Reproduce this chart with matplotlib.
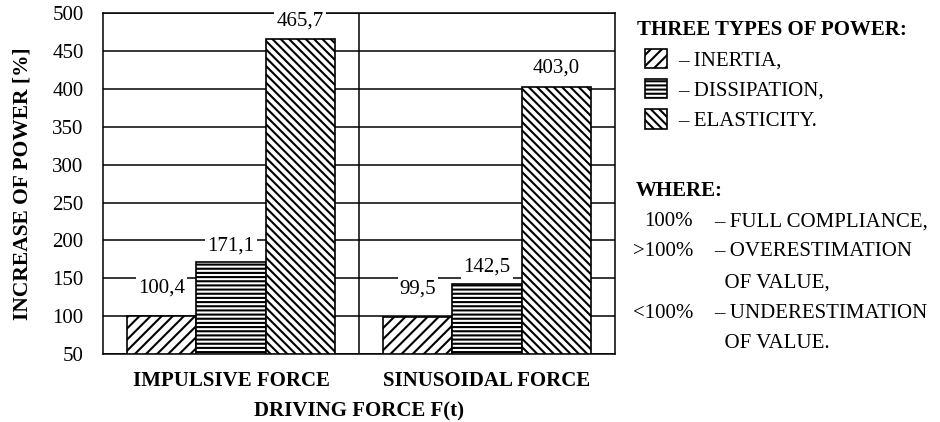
import matplotlib
matplotlib.use("Agg")
import matplotlib.pyplot as plt
import numpy as np

plt.rcParams['font.family'] = ['Liberation Serif', 'DejaVu Serif']
plt.rcParams['hatch.linewidth'] = 1.5

groups = ['IMPULSIVE FORCE', 'SINUSOIDAL FORCE']
series = ['INERTIA', 'DISSIPATION', 'ELASTICITY']
inertia = [100.4, 99.5]
dissipation = [171.1, 142.5]
elasticity = [465.7, 403.0]
labels_txt = [['100,4', '99,5'], ['171,1', '142,5'], ['465,7', '403,0']]
yticks = [50, 100, 150, 200, 250, 300, 350, 400, 450, 500]

fs = 15
fig = plt.figure(figsize=(9.4, 4.22), dpi=100)
ax = fig.add_axes([0.1096, 0.161, 0.5447, 0.808])

x = np.array([0.5, 1.5])
w = 0.27
hatches = ['///', '----', '\\\\\\\\']
offs = [20, 12, 13]
bars = []
for i, vals in enumerate([inertia, dissipation, elasticity]):
    b = ax.bar(x + (i - 1) * w, np.array(vals) - 50, w, bottom=50,
               color='white', edgecolor='black', hatch=hatches[i],
               linewidth=1.2, zorder=3)
    bars.append(b)
    for xi, v, t in zip(x + (i - 1) * w, vals, labels_txt[i]):
        ax.annotate(t, (xi, v), xytext=(0, offs[i]), textcoords='offset points',
                    ha='center', va='center', fontsize=fs, zorder=5,
                    annotation_clip=False,
                    bbox=dict(facecolor='white', edgecolor='none', pad=1.5))

ax.set_xlim(0, 2)
ax.set_ylim(50, 500)
ax.set_yticks(yticks)
ax.set_xticks(x)
ax.set_xticklabels(groups, fontweight='bold', fontsize=fs)
ax.tick_params(length=0, labelsize=fs, pad=14)
ax.tick_params(axis='x', pad=12)
ax.yaxis.grid(True, color='black', linewidth=1.1, zorder=0)
ax.axvline(1, color='black', linewidth=1.1, zorder=1)
for s in ax.spines.values():
    s.set_linewidth(1.1)
ax.set_axisbelow(True)
ax.set_ylabel('INCREASE OF POWER [%]', fontweight='bold', fontsize=15.5, labelpad=14)
ax.set_xlabel('DRIVING FORCE F(t)', fontweight='bold', fontsize=fs, labelpad=8)

# legend block on the right
fig.text(637 / 940, 1 - 30 / 422, 'THREE TYPES OF POWER:', fontweight='bold',
         fontsize=fs, va='center')
leg = fig.legend(bars, ['– INERTIA,', '– DISSIPATION,', '– ELASTICITY.'],
                 loc='upper left', bbox_to_anchor=(645 / 940, 1 - 49 / 422),
                 frameon=False, fontsize=fs,
                 handlelength=1.05, handleheight=1.05, handletextpad=0.55,
                 labelspacing=0.4, borderaxespad=0, borderpad=0)

fig.text(636 / 940, 1 - 191 / 422, 'WHERE:', fontweight='bold', fontsize=fs, va='center')
where_left = ['100%', '>100%', '', '<100%', '']
where_right = ['– FULL COMPLIANCE,', '– OVERESTIMATION', '  OF VALUE,',
               '– UNDERESTIMATION', '  OF VALUE.']
ys = [222, 252, 283, 313, 344]
for l, r, yy in zip(where_left, where_right, ys):
    fig.text(693 / 940, 1 - yy / 422, l, fontsize=fs, va='center', ha='right')
    fig.text(714 / 940, 1 - yy / 422, r, fontsize=fs, va='center')

fig.savefig('out.png', dpi=100)
